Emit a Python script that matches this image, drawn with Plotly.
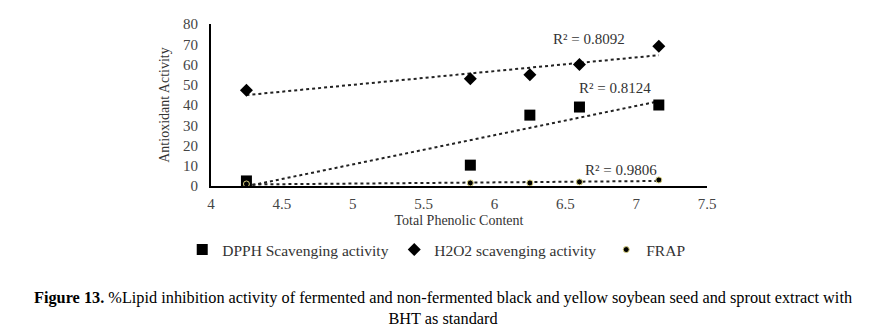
import numpy as np
import plotly.graph_objects as go

tpc = [4.25, 5.83, 6.25, 6.6, 7.16]
dpph = [2.5, 10.3, 35.0, 39.0, 40.0]
h2o2 = [47.3, 53.0, 55.0, 60.0, 69.0]
frap = [1.0, 1.5, 1.5, 2.0, 3.0]
r2_labels = ["R² = 0.8092", "R² = 0.8124", "R² = 0.9806"]
x_ticks = [4, 4.5, 5, 5.5, 6, 6.5, 7, 7.5]
y_ticks = [0, 10, 20, 30, 40, 50, 60, 70, 80]

FONT = "Liberation Serif"
fig = go.Figure()

def trend(ys):
    m, b = np.polyfit(tpc, ys, 1)
    xs = [tpc[0], tpc[-1]]
    return xs, [m * x + b for x in xs]

for ys in (dpph, h2o2, frap):
    tx, ty = trend(ys)
    fig.add_trace(go.Scatter(x=tx, y=ty, mode="lines", showlegend=False,
                             line=dict(color="#222", width=2, dash="dot"), hoverinfo="skip"))

fig.add_trace(go.Scatter(x=tpc, y=dpph, mode="markers", name="DPPH Scavenging activity",
                         marker=dict(symbol="square", size=11, color="black")))
fig.add_trace(go.Scatter(x=tpc, y=h2o2, mode="markers", name="H2O2 scavenging activity",
                         marker=dict(symbol="diamond", size=10, color="black")))
fig.add_trace(go.Scatter(x=tpc, y=frap, mode="markers", name="FRAP",
                         marker=dict(symbol="circle", size=6, color="black",
                                     line=dict(color="#d8d080", width=1))))

ann_pos = [(6.67, 72.4), (6.85, 48.3), (6.89, 7.9)]
for (ax, ay), t in zip(ann_pos, r2_labels):
    fig.add_annotation(x=ax, y=ay, text=t, showarrow=False,
                       font=dict(family=FONT, size=15, color="#333"))

fig.add_annotation(xref="paper", yref="paper", x=0.468, y=-0.755, yanchor="middle",
                   text="<b>Figure 13.</b> %Lipid inhibition activity of fermented and non-fermented black and yellow soybean seed and sprout extract with<br>BHT as standard",
                   showarrow=False, font=dict(family=FONT, size=16.3, color="black"),
                   align="center")

fig.update_layout(
    width=887, height=336, margin=dict(l=211, r=180, t=24, b=150),
    paper_bgcolor="white", plot_bgcolor="white",
    font=dict(family=FONT, size=15, color="#333"),
    xaxis=dict(range=[4, 7.5], tickvals=x_ticks, showgrid=False, zeroline=False,
               showline=True, linecolor="black", linewidth=2, ticks="",
               ticklabelstandoff=3,
               tickfont=dict(family=FONT, size=15, color="#444"),
               title=dict(text="Total Phenolic Content", standoff=4,
                         font=dict(family=FONT, size=14, color="#333"))),
    yaxis=dict(range=[0, 80], tickvals=y_ticks, showgrid=False, zeroline=False,
               showline=True, linecolor="black", linewidth=2, ticks="",
               ticklabelstandoff=8,
               tickfont=dict(family=FONT, size=15, color="#444"),
               title=dict(text="Antioxidant Activity", standoff=10,
                         font=dict(family=FONT, size=14, color="#333"))),
    legend=dict(orientation="h", x=-0.058, xanchor="left", y=-0.395, yanchor="middle",
                font=dict(family=FONT, size=15.5, color="#333"),
                entrywidth=167, entrywidthmode="pixels", itemwidth=30,
                tracegroupgap=0),
)

fig.write_html("out.html")
